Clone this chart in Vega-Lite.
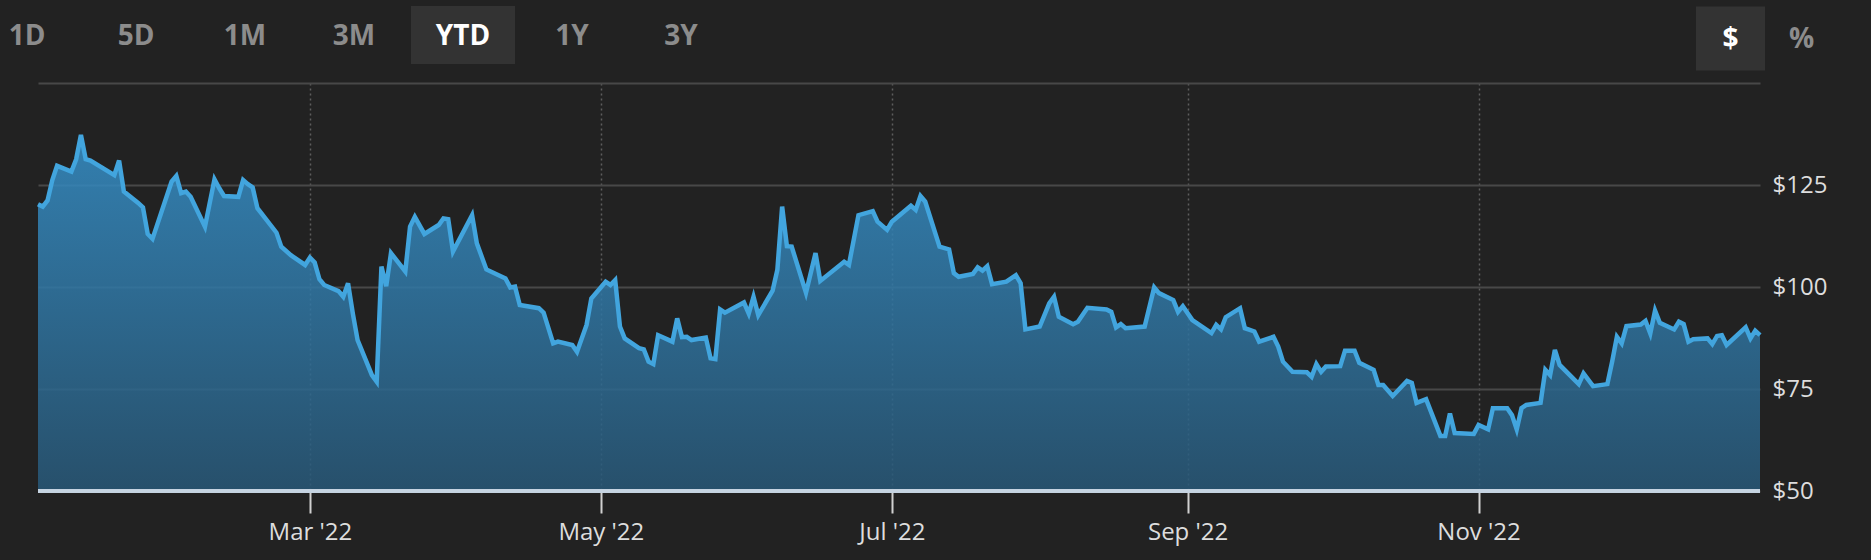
{
  "$schema": "https://vega.github.io/schema/vega-lite/v6.json",
  "background": "#222222",
  "autosize": {"type": "none"},
  "padding": {"left": 38, "right": 111, "top": 83, "bottom": 69},
  "width": 1722,
  "height": 408,
  "config": {"view": {"stroke": null}},
  "datasets": {
    "prices": [
      {"date":"2022-01-03","price":120.3},{"date":"2022-01-04","price":119.7},{"date":"2022-01-05","price":121.2},{"date":"2022-01-06","price":126.2},{"date":"2022-01-07","price":129.7},
      {"date":"2022-01-10","price":128.3},{"date":"2022-01-11","price":131.3},{"date":"2022-01-12","price":137.3},{"date":"2022-01-13","price":131.3},{"date":"2022-01-14","price":131.0},
      {"date":"2022-01-19","price":127.4},{"date":"2022-01-20","price":131.0},{"date":"2022-01-21","price":123.4},{"date":"2022-01-24","price":120.6},{"date":"2022-01-25","price":119.5},
      {"date":"2022-01-26","price":113.0},{"date":"2022-01-27","price":111.8},{"date":"2022-01-31","price":125.8},{"date":"2022-02-01","price":127.2},{"date":"2022-02-02","price":123.0},
      {"date":"2022-02-03","price":123.4},{"date":"2022-02-04","price":122.1},{"date":"2022-02-07","price":114.8},{"date":"2022-02-09","price":126.4},{"date":"2022-02-10","price":124.2},
      {"date":"2022-02-11","price":122.3},{"date":"2022-02-14","price":122.1},{"date":"2022-02-15","price":126.2},{"date":"2022-02-16","price":125.2},{"date":"2022-02-17","price":124.4},
      {"date":"2022-02-18","price":119.3},{"date":"2022-02-22","price":113.3},{"date":"2022-02-23","price":109.9},{"date":"2022-02-25","price":107.8},{"date":"2022-02-28","price":105.4},
      {"date":"2022-03-01","price":107.2},{"date":"2022-03-02","price":106.0},{"date":"2022-03-03","price":101.9},{"date":"2022-03-04","price":100.5},{"date":"2022-03-07","price":99.0},
      {"date":"2022-03-08","price":97.6},{"date":"2022-03-09","price":100.9},{"date":"2022-03-10","price":93.5},{"date":"2022-03-11","price":87.0},{"date":"2022-03-14","price":78.4},
      {"date":"2022-03-15","price":76.8},{"date":"2022-03-16","price":105.0},{"date":"2022-03-17","price":100.2},{"date":"2022-03-18","price":108.3},{"date":"2022-03-21","price":103.8},
      {"date":"2022-03-22","price":114.8},{"date":"2022-03-23","price":117.2},{"date":"2022-03-25","price":113.0},{"date":"2022-03-28","price":115.2},{"date":"2022-03-29","price":116.8},
      {"date":"2022-03-30","price":116.6},{"date":"2022-03-31","price":108.7},{"date":"2022-04-04","price":117.6},{"date":"2022-04-05","price":110.7},{"date":"2022-04-07","price":104.3},
      {"date":"2022-04-11","price":102.1},{"date":"2022-04-12","price":99.9},{"date":"2022-04-13","price":100.1},{"date":"2022-04-14","price":95.6},{"date":"2022-04-18","price":94.8},
      {"date":"2022-04-19","price":93.7},{"date":"2022-04-21","price":86.2},{"date":"2022-04-22","price":86.6},{"date":"2022-04-25","price":85.8},{"date":"2022-04-26","price":84.1},
      {"date":"2022-04-28","price":90.7},{"date":"2022-04-29","price":97.2},{"date":"2022-05-02","price":101.3},{"date":"2022-05-03","price":100.5},{"date":"2022-05-04","price":101.7},
      {"date":"2022-05-05","price":90.3},{"date":"2022-05-06","price":87.4},{"date":"2022-05-09","price":85.0},{"date":"2022-05-10","price":84.7},{"date":"2022-05-11","price":81.7},
      {"date":"2022-05-12","price":81.1},{"date":"2022-05-13","price":88.2},{"date":"2022-05-16","price":86.6},{"date":"2022-05-17","price":92.3},{"date":"2022-05-18","price":87.7},
      {"date":"2022-05-19","price":87.8},{"date":"2022-05-20","price":87.0},{"date":"2022-05-23","price":87.6},{"date":"2022-05-24","price":82.5},{"date":"2022-05-25","price":82.3},
      {"date":"2022-05-26","price":94.5},{"date":"2022-05-27","price":93.7},{"date":"2022-05-31","price":96.2},{"date":"2022-06-01","price":93.5},{"date":"2022-06-02","price":97.6},
      {"date":"2022-06-03","price":93.1},{"date":"2022-06-06","price":99.1},{"date":"2022-06-07","price":104.2},{"date":"2022-06-08","price":119.7},{"date":"2022-06-09","price":110.0},
      {"date":"2022-06-10","price":109.9},{"date":"2022-06-13","price":98.6},{"date":"2022-06-15","price":108.3},{"date":"2022-06-16","price":101.5},{"date":"2022-06-21","price":106.2},
      {"date":"2022-06-22","price":105.4},{"date":"2022-06-24","price":117.6},{"date":"2022-06-27","price":118.6},{"date":"2022-06-28","price":116.0},{"date":"2022-06-30","price":114.0},
      {"date":"2022-07-01","price":116.0},{"date":"2022-07-05","price":119.9},{"date":"2022-07-06","price":118.9},{"date":"2022-07-07","price":122.3},{"date":"2022-07-08","price":120.9},
      {"date":"2022-07-11","price":109.9},{"date":"2022-07-13","price":109.2},{"date":"2022-07-14","price":103.4},{"date":"2022-07-15","price":102.5},{"date":"2022-07-18","price":103.2},
      {"date":"2022-07-19","price":104.8},{"date":"2022-07-20","price":104.0},{"date":"2022-07-21","price":105.1},{"date":"2022-07-22","price":100.7},{"date":"2022-07-25","price":101.3},
      {"date":"2022-07-27","price":102.9},{"date":"2022-07-28","price":100.9},{"date":"2022-07-29","price":89.6},{"date":"2022-08-01","price":90.3},{"date":"2022-08-03","price":96.0},
      {"date":"2022-08-04","price":97.6},{"date":"2022-08-05","price":92.7},{"date":"2022-08-08","price":90.9},{"date":"2022-08-09","price":91.5},{"date":"2022-08-11","price":94.9},
      {"date":"2022-08-15","price":94.5},{"date":"2022-08-16","price":93.9},{"date":"2022-08-17","price":90.1},{"date":"2022-08-18","price":90.9},{"date":"2022-08-19","price":89.9},
      {"date":"2022-08-23","price":90.3},{"date":"2022-08-25","price":99.9},{"date":"2022-08-26","price":98.5},{"date":"2022-08-29","price":96.8},{"date":"2022-08-30","price":93.9},
      {"date":"2022-08-31","price":95.3},{"date":"2022-09-02","price":91.9},{"date":"2022-09-06","price":88.7},{"date":"2022-09-07","price":90.7},{"date":"2022-09-08","price":89.6},
      {"date":"2022-09-09","price":92.6},{"date":"2022-09-12","price":94.8},{"date":"2022-09-13","price":89.9},{"date":"2022-09-15","price":89.1},{"date":"2022-09-16","price":86.6},
      {"date":"2022-09-19","price":87.8},{"date":"2022-09-20","price":85.4},{"date":"2022-09-21","price":81.7},{"date":"2022-09-23","price":79.2},{"date":"2022-09-26","price":79.1},
      {"date":"2022-09-27","price":78.0},{"date":"2022-09-28","price":81.1},{"date":"2022-09-29","price":79.2},{"date":"2022-09-30","price":80.5},{"date":"2022-10-03","price":80.6},
      {"date":"2022-10-04","price":84.4},{"date":"2022-10-06","price":84.4},{"date":"2022-10-07","price":81.4},{"date":"2022-10-10","price":79.7},{"date":"2022-10-11","price":76.0},
      {"date":"2022-10-12","price":76.0},{"date":"2022-10-14","price":73.3},{"date":"2022-10-17","price":77.0},{"date":"2022-10-18","price":76.5},{"date":"2022-10-19","price":71.6},
      {"date":"2022-10-21","price":72.5},{"date":"2022-10-24","price":63.5},{"date":"2022-10-25","price":63.5},{"date":"2022-10-26","price":69.0},{"date":"2022-10-27","price":64.2},
      {"date":"2022-10-31","price":64.0},{"date":"2022-11-01","price":66.2},{"date":"2022-11-03","price":65.1},{"date":"2022-11-04","price":70.3},{"date":"2022-11-07","price":70.3},
      {"date":"2022-11-08","price":68.6},{"date":"2022-11-09","price":65.1},{"date":"2022-11-10","price":70.3},{"date":"2022-11-11","price":71.1},{"date":"2022-11-14","price":71.6},
      {"date":"2022-11-15","price":79.7},{"date":"2022-11-16","price":78.4},{"date":"2022-11-17","price":84.6},{"date":"2022-11-18","price":80.9},{"date":"2022-11-22","price":76.2},
      {"date":"2022-11-23","price":78.8},{"date":"2022-11-25","price":75.7},{"date":"2022-11-28","price":76.2},{"date":"2022-11-29","price":81.7},{"date":"2022-11-30","price":87.8},
      {"date":"2022-12-01","price":86.2},{"date":"2022-12-02","price":90.4},{"date":"2022-12-05","price":90.8},{"date":"2022-12-06","price":91.7},{"date":"2022-12-07","price":88.6},
      {"date":"2022-12-08","price":94.2},{"date":"2022-12-09","price":91.2},{"date":"2022-12-12","price":89.6},{"date":"2022-12-13","price":91.5},{"date":"2022-12-14","price":90.9},
      {"date":"2022-12-15","price":86.6},{"date":"2022-12-16","price":87.2},{"date":"2022-12-19","price":87.4},{"date":"2022-12-20","price":86.0},{"date":"2022-12-21","price":88.0},
      {"date":"2022-12-22","price":88.2},{"date":"2022-12-23","price":85.8},{"date":"2022-12-27","price":90.1},{"date":"2022-12-28","price":87.4},{"date":"2022-12-29","price":89.3},
      {"date":"2022-12-30","price":88.2}
    ],
    "ranges": [
      {"label":"1D","selected":false},{"label":"5D","selected":false},{"label":"1M","selected":false},{"label":"3M","selected":false},
      {"label":"YTD","selected":true},{"label":"1Y","selected":false},{"label":"3Y","selected":false}
    ],
    "units": [
      {"label":"$","selected":true},{"label":"%","selected":false}
    ]
  },
  "layer": [
    {
      "data": {"name": "prices"},
      "encoding": {
        "x": {
          "field": "date", "type": "temporal",
          "scale": {"type": "utc", "domain": [{"year":2022,"month":1,"date":3,"utc":true},{"year":2022,"month":12,"date":30,"utc":true}]},
          "axis": {
            "values": [{"year":2022,"month":3,"date":1,"utc":true},{"year":2022,"month":5,"date":1,"utc":true},{"year":2022,"month":7,"date":1,"utc":true},{"year":2022,"month":9,"date":1,"utc":true},{"year":2022,"month":11,"date":1,"utc":true}],
            "labelExpr": "utcFormat(datum.value, \"%b '%y\")",
            "title": null,
            "grid": true, "gridDash": [2, 3], "gridColor": "#5e5e5e", "gridWidth": 1.5,
            "domain": false,
            "tickColor": "#d0d0d0", "tickWidth": 2, "tickSize": 22,
            "labelPadding": 7, "labelFont": "Open Sans", "labelFontSize": 24, "labelColor": "#dddddd",
            "labelFlush": false
          }
        },
        "y": {
          "field": "price", "type": "quantitative",
          "scale": {"domain": [50, 150], "zero": false, "nice": false},
          "axis": {
            "orient": "right",
            "values": [50, 75, 100, 125, 150],
            "labelExpr": "datum.value == 150 ? '' : '$' + datum.value",
            "title": null,
            "grid": true, "gridColor": "#484848", "gridWidth": 2,
            "domain": false, "ticks": false,
            "labelPadding": 12, "labelFont": "Open Sans", "labelFontSize": 24, "labelColor": "#dddddd",
            "labelAlign": "left", "labelBaseline": "middle"
          }
        }
      },
      "layer": [
        {
          "mark": {
            "type": "area", "opacity": 0.85,
            "color": {"gradient": "linear", "x1": 0, "y1": 0, "x2": 0, "y2": 1,
              "stops": [{"offset": 0, "color": "#3690c9"}, {"offset": 1, "color": "#285878"}]}
          },
          "encoding": {"y2": {"datum": 50}}
        },
        {
          "mark": {"type": "line", "color": "#42a5de", "strokeWidth": 4.5}
        },
        {
          "mark": {"type": "rule", "color": "#c6d4e2", "strokeWidth": 3},
          "encoding": {"x": null, "y": {"datum": 50, "type": "quantitative", "scale": {"domain": [50, 150]}}}
        }
      ]
    },
    {
      "data": {"name": "ranges"},
      "encoding": {
        "x": {"field": "label", "type": "nominal", "scale": {"type": "point", "domain": ["1D","5D","1M","3M","YTD","1Y","3Y"], "range": [-11, 643], "padding": 0}, "axis": null}
      },
      "layer": [
        {
          "transform": [{"filter": "datum.selected"}],
          "mark": {"type": "point", "shape": "M-1,-0.558H1V0.558H-1Z", "filled": true, "size": 10816, "color": "#333333", "opacity": 1, "strokeWidth": 0},
          "encoding": {"y": {"datum": 161.76, "type": "quantitative", "scale": {"domain": [50, 150]}}}
        },
        {
          "mark": {"type": "text", "font": "Open Sans", "fontSize": 28, "fontWeight": "bold", "align": "center", "baseline": "middle"},
          "encoding": {
            "y": {"datum": 161.37, "type": "quantitative", "scale": {"domain": [50, 150]}},
            "text": {"field": "label"},
            "color": {"condition": {"test": "datum.selected", "value": "#ffffff"}, "value": "#8c8c8c"}
          }
        }
      ]
    },
    {
      "data": {"name": "units"},
      "encoding": {
        "x": {"field": "label", "type": "nominal", "scale": {"type": "point", "domain": ["$","%"], "range": [1692.5, 1763.7], "padding": 0}, "axis": null}
      },
      "layer": [
        {
          "transform": [{"filter": "datum.selected"}],
          "mark": {"type": "point", "shape": "M-1,-0.9275H1V0.9275H-1Z", "filled": true, "size": 4761, "color": "#333333", "opacity": 1, "strokeWidth": 0},
          "encoding": {"y": {"datum": 160.9, "type": "quantitative", "scale": {"domain": [50, 150]}}}
        },
        {
          "mark": {"type": "text", "font": "Open Sans", "fontSize": 28, "fontWeight": "bold", "align": "center", "baseline": "middle"},
          "encoding": {
            "y": {"datum": 160.64, "type": "quantitative", "scale": {"domain": [50, 150]}},
            "text": {"field": "label"},
            "color": {"condition": {"test": "datum.selected", "value": "#ffffff"}, "value": "#8c8c8c"}
          }
        }
      ]
    }
  ],
  "resolve": {"scale": {"x": "independent"}}
}
